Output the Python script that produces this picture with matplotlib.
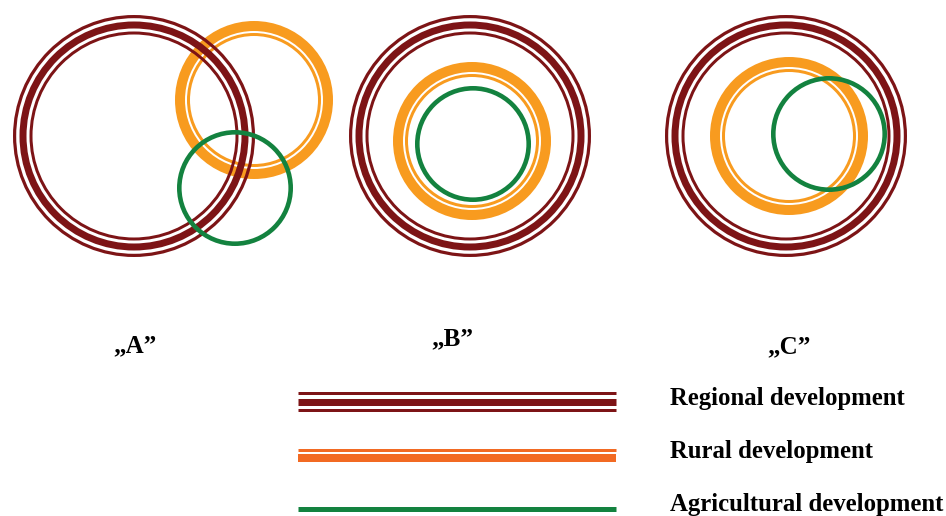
import matplotlib.pyplot as plt
from matplotlib.patches import Circle

# circle centres (pixel coords of the original drawing) and outer radii
paineis = ['\u201eA\u201d', '\u201eB\u201d', '\u201eC\u201d']
regional_cx = [134, 470, 786]
regional_cy = [136, 136, 136]
regional_r = [121, 121, 121]
rural_cx = [254, 472, 789]
rural_cy = [100, 141, 136]
rural_r = [79, 79, 79]
agri_cx = [235, 473, 829]
agri_cy = [188, 144, 134]
agri_r = [58, 58, 58]
label_x = [135, 452, 789]
label_y = [352, 345, 353]

legenda = ['Regional development', 'Rural development', 'Agricultural development']

vermelho = '#7d1416'
laranja = '#f89b1f'
laranja_leg = '#f26a23'
verde = '#13823f'

px = 0.72  # pixels -> points at dpi 100

fig = plt.figure(figsize=(9.46, 5.16), dpi=100)
ax = fig.add_axes([0, 0, 1, 1])
ax.set_xlim(0, 946)
ax.set_ylim(516, 0)
ax.set_aspect('equal')
ax.axis('off')

for i in range(len(paineis)):
    # rural: thick ring + thin inner ring
    ax.add_patch(Circle((rural_cx[i], rural_cy[i]), rural_r[i] - 5, fill=False,
                        ec=laranja, lw=10 * px, zorder=1))
    ax.add_patch(Circle((rural_cx[i], rural_cy[i]), rural_r[i] - 13.5, fill=False,
                        ec=laranja, lw=3 * px, zorder=1))
    # regional: thin, thick, thin
    for off, w in [(1.6, 3.2), (10, 7), (18, 3)]:
        ax.add_patch(Circle((regional_cx[i], regional_cy[i]), regional_r[i] - off, fill=False,
                            ec=vermelho, lw=w * px, zorder=2))
    # agricultural
    ax.add_patch(Circle((agri_cx[i], agri_cy[i]), agri_r[i] - 2.3, fill=False,
                        ec=verde, lw=4.6 * px, zorder=3))
    ax.text(label_x[i], label_y[i], paineis[i], ha='center', va='baseline',
            fontsize=18, fontweight='bold', family='Liberation Serif')

# legend drawn by hand
x0, x1 = 298, 616
ax.plot([x0, x1], [393, 393], color=vermelho, lw=3 * px, solid_capstyle='butt')
ax.plot([x0, x1], [401.5, 401.5], color=vermelho, lw=7 * px, solid_capstyle='butt')
ax.plot([x0, x1], [409.5, 409.5], color=vermelho, lw=3 * px, solid_capstyle='butt')
ax.plot([x0, x1], [449.5, 449.5], color=laranja_leg, lw=3 * px, solid_capstyle='butt')
ax.plot([x0, x1], [458, 458], color=laranja_leg, lw=8 * px, solid_capstyle='butt')
ax.plot([x0, x1], [508.5, 508.5], color=verde, lw=5 * px, solid_capstyle='butt')

for txt, y in zip(legenda, [405, 458, 511]):
    ax.text(670, y, txt, ha='left', va='baseline', fontsize=17.8,
            fontweight='bold', family='Liberation Serif')

fig.savefig('out.png', dpi=100)
